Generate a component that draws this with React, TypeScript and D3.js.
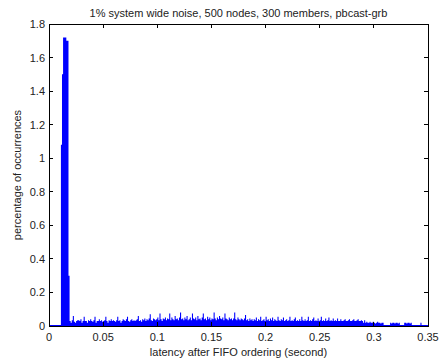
import React from "react";
import * as d3 from "d3";

const title = "1% system wide noise, 500 nodes, 300 members, pbcast-grb";
const xLabel = "latency after FIFO ordering (second)";
const yLabel = "percentage of occurrences";
const xTicks = [0, 0.05, 0.1, 0.15, 0.2, 0.25, 0.3, 0.35];
const yTicks = [0, 0.2, 0.4, 0.6, 0.8, 1, 1.2, 1.4, 1.6, 1.8];
const binStart = 0.011;
const binWidth = 0.001;
const peakValues = [1.08, 1.5, 1.72, 1.72, 1.72, 1.7, 1.7, 0.3];
const floorValues = [
  0.03, 0.02, 0.035, 0.06, 0.025, 0.02, 0.03, 0.035, 0.035, 0.03,
  0.04, 0.02, 0.03, 0.055, 0.03, 0.03, 0.02, 0.035, 0.03, 0.04,
  0.03, 0.025, 0.035, 0.055, 0.02, 0.03, 0.03, 0.04, 0.03, 0.035,
  0.025, 0.03, 0.035, 0.055, 0.03, 0.02, 0.035, 0.03, 0.04, 0.03,
  0.035, 0.03, 0.025, 0.035, 0.055, 0.03, 0.035, 0.02, 0.03, 0.04,
  0.035, 0.03, 0.04, 0.055, 0.03, 0.025, 0.035, 0.04, 0.03, 0.035,
  0.03, 0.035, 0.04, 0.06, 0.03, 0.035, 0.025, 0.04, 0.035, 0.045,
  0.03, 0.04, 0.035, 0.045, 0.07, 0.035, 0.03, 0.045, 0.04, 0.035,
  0.04, 0.05, 0.035, 0.075, 0.04, 0.03, 0.045, 0.04, 0.05, 0.035,
  0.045, 0.04, 0.075, 0.035, 0.05, 0.04, 0.035, 0.06, 0.04, 0.045,
  0.035, 0.05, 0.08, 0.04, 0.045, 0.035, 0.05, 0.04, 0.06, 0.035,
  0.04, 0.05, 0.035, 0.075, 0.045, 0.04, 0.05, 0.035, 0.06, 0.04,
  0.045, 0.035, 0.05, 0.075, 0.04, 0.045, 0.035, 0.055, 0.04, 0.05,
  0.035, 0.045, 0.04, 0.08, 0.045, 0.035, 0.05, 0.04, 0.06, 0.045,
  0.04, 0.05, 0.035, 0.075, 0.045, 0.04, 0.035, 0.05, 0.04, 0.045,
  0.035, 0.045, 0.08, 0.04, 0.035, 0.05, 0.04, 0.035, 0.045, 0.04,
  0.035, 0.045, 0.065, 0.035, 0.04, 0.03, 0.045, 0.035, 0.04, 0.03,
  0.04, 0.035, 0.05, 0.03, 0.04, 0.035, 0.055, 0.03, 0.035, 0.04,
  0.03, 0.055, 0.035, 0.04, 0.03, 0.045, 0.035, 0.05, 0.03, 0.04,
  0.035, 0.03, 0.055, 0.035, 0.03, 0.04, 0.035, 0.05, 0.03, 0.035,
  0.04, 0.03, 0.035, 0.055, 0.03, 0.035, 0.03, 0.04, 0.05, 0.03,
  0.035, 0.03, 0.04, 0.03, 0.055, 0.035, 0.03, 0.04, 0.03, 0.035,
  0.055, 0.03, 0.035, 0.03, 0.04, 0.05, 0.03, 0.035, 0.03, 0.045,
  0.03, 0.035, 0.055, 0.03, 0.035, 0.03, 0.045, 0.03, 0.035, 0.05,
  0.03, 0.035, 0.03, 0.045, 0.03, 0.035, 0.03, 0.045, 0.03, 0.03,
  0.04, 0.03, 0.03, 0.035, 0.04, 0.03, 0.03, 0.035, 0.04, 0.03,
  0.03, 0.035, 0.04, 0.03, 0.03, 0.035, 0.04, 0.03, 0.03, 0.035,
  0.03, 0.02, 0.035, 0.02, 0.025, 0.02, 0.02, 0.025, 0.02, 0.02,
  0.025, 0.02, 0.015, 0.02, 0.025, 0.02, 0.02, 0.015, 0.02, 0.02,
  0, 0, 0, 0, 0, 0, 0.02, 0.015, 0.02, 0.02,
  0.015, 0.02, 0.02, 0.015, 0.02, 0, 0, 0, 0, 0.02,
  0.02, 0.015, 0.02, 0.02, 0.015, 0.02, 0, 0, 0, 0,
  0, 0, 0, 0, 0.02, 0,
];

const W = 440;
const H = 363;
const M = { left: 49, right: 428, top: 24, bottom: 326 };
const font = "'Liberation Sans', Arial, Helvetica, sans-serif";
const textColor = "#222";
const fs = 11;

export default function App() {
  const x = d3.scaleLinear().domain([0, 0.35]).range([M.left, M.right]);
  const y = d3.scaleLinear().domain([0, 1.8]).range([M.bottom, M.top]);
  const values = [...peakValues, ...floorValues];
  const pts: [number, number][] = values.map((v, i) => [binStart + i * binWidth, v]);
  pts.push([binStart + values.length * binWidth, 0]);
  const area = d3
    .area<[number, number]>()
    .x((d) => x(d[0]))
    .y0(y(0))
    .y1((d) => y(d[1]))
    .curve(d3.curveStepAfter);
  const tl = 4;
  return (
    <svg width={W} height={H} style={{ position: "absolute", left: 0, top: 0, background: "#fff" }}>
      <rect x={0} y={0} width={W} height={H} fill="#fff" />
      <text x={(M.left + M.right) / 2} y={17} textAnchor="middle" fontFamily={font} fontSize={fs} fill={textColor}>
        {title}
      </text>
      <path d={area(pts) || ""} fill="#0000ff" stroke="none" />
      <line x1={x(0)} x2={x(0.35)} y1={y(0) - 0.5} y2={y(0) - 0.5} stroke="#0000ff" strokeWidth={1} />
      <rect x={M.left} y={M.top} width={M.right - M.left} height={M.bottom - M.top} fill="none" stroke="#000" strokeWidth={1} shapeRendering="crispEdges" />
      {xTicks.map((t) => (
        <g key={"x" + t}>
          <line x1={x(t)} x2={x(t)} y1={M.bottom} y2={M.bottom - tl} stroke="#000" shapeRendering="crispEdges" />
          <line x1={x(t)} x2={x(t)} y1={M.top} y2={M.top + tl} stroke="#000" shapeRendering="crispEdges" />
          <text x={x(t)} y={M.bottom + 15} textAnchor="middle" fontFamily={font} fontSize={fs} fill={textColor}>
            {String(t)}
          </text>
        </g>
      ))}
      {yTicks.map((t) => (
        <g key={"y" + t}>
          <line x1={M.left} x2={M.left + tl} y1={y(t)} y2={y(t)} stroke="#000" shapeRendering="crispEdges" />
          <line x1={M.right} x2={M.right - tl} y1={y(t)} y2={y(t)} stroke="#000" shapeRendering="crispEdges" />
          <text x={M.left - 4} y={y(t) + 4} textAnchor="end" fontFamily={font} fontSize={fs} fill={textColor}>
            {String(t)}
          </text>
        </g>
      ))}
      <text x={(M.left + M.right) / 2} y={356} textAnchor="middle" fontFamily={font} fontSize={fs} fill={textColor}>
        {xLabel}
      </text>
      <text transform={`translate(21,${(M.top + M.bottom) / 2}) rotate(-90)`} textAnchor="middle" fontFamily={font} fontSize={fs} fill={textColor}>
        {yLabel}
      </text>
    </svg>
  );
}
